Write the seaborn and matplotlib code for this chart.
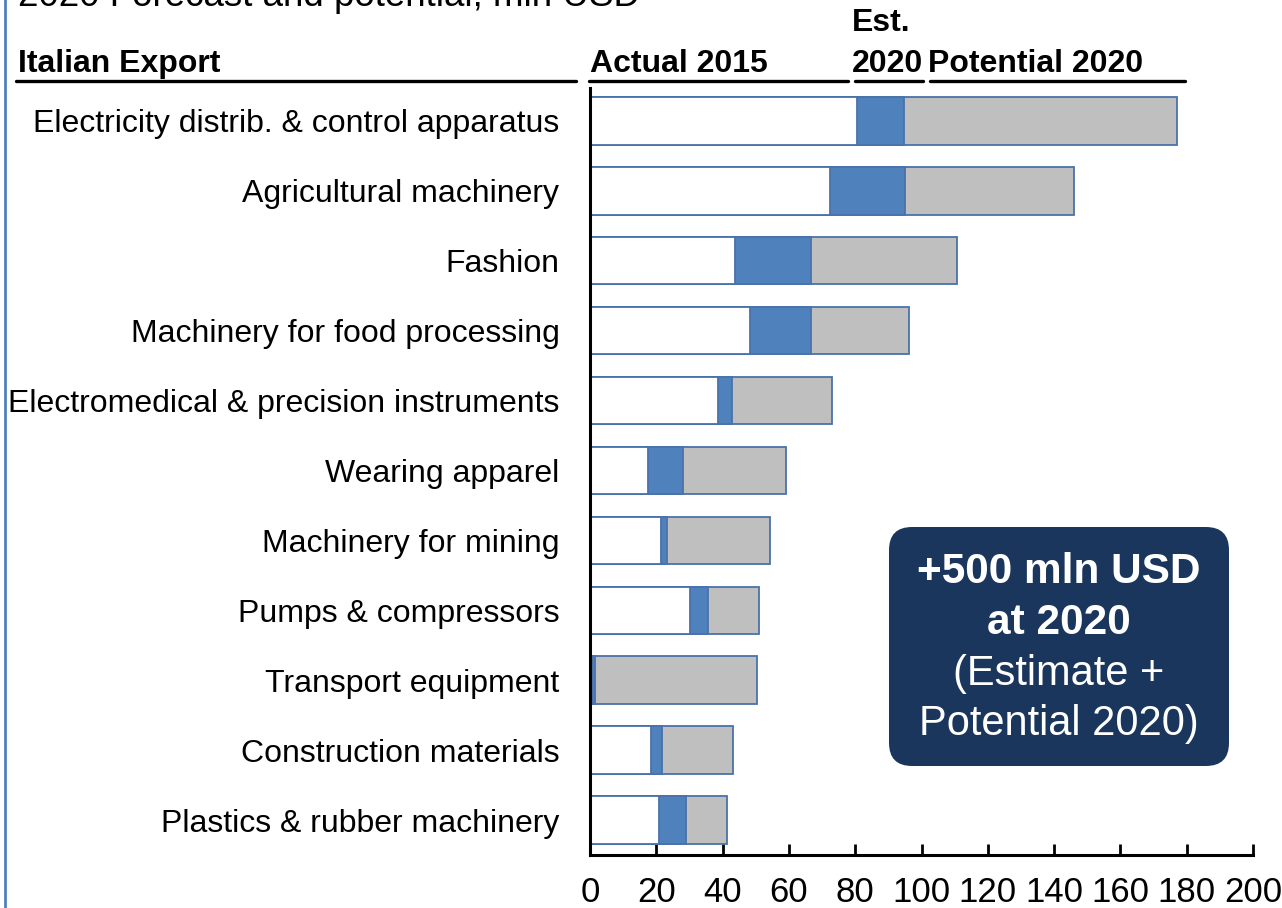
import matplotlib
matplotlib.use("Agg")
import matplotlib.pyplot as plt
from matplotlib.patches import FancyBboxPatch
from matplotlib.lines import Line2D
import seaborn as sns
import numpy as np
import pandas as pd

# Italian export, mln USD
categories = [
    "Electricity distrib. & control apparatus",
    "Agricultural machinery",
    "Fashion",
    "Machinery for food processing",
    "Electromedical & precision instruments",
    "Wearing apparel",
    "Machinery for mining",
    "Pumps & compressors",
    "Transport equipment",
    "Construction materials",
    "Plastics & rubber machinery",
]
actual_2015 = [80.5, 72.4, 43.7, 48.2, 38.6, 17.5, 21.4, 30.2, 0.6, 18.4, 20.8]
est_2020 = [14.2, 22.6, 22.9, 18.4, 4.2, 10.5, 1.8, 5.4, 0.9, 3.3, 8.2]
potential_2020 = [82.3, 51.0, 44.1, 29.6, 30.2, 31.0, 31.1, 15.4, 48.9, 21.4, 12.3]
x_ticks = [0, 20, 40, 60, 80, 100, 120, 140, 160, 180, 200]

df = pd.DataFrame({"category": categories,
                   "actual": actual_2015,
                   "est": est_2020,
                   "pot": potential_2020})
df["est_end"] = df["actual"] + df["est"]
df["total"] = df["est_end"] + df["pot"]

sns.set_style("white")
plt.rcParams["font.family"] = ["Liberation Sans", "DejaVu Sans"]
plt.rcParams["text.color"] = "black"
plt.rcParams["xtick.color"] = "black"
plt.rcParams["ytick.color"] = "black"

W, H = 1282, 908
fig = plt.figure(figsize=(W / 100, H / 100), dpi=100)
ax = fig.add_axes([590 / W, 1 - 855 / H, (1253 - 590) / W, (855 - 88) / H])

edge = "#4A72AA"
bar_w = 0.68
# draw layered: total (grey), actual+estimate (blue), actual (white)
sns.barplot(data=df, x="total", y="category", orient="h", color="#BFBFBF",
            saturation=1, width=bar_w, edgecolor=edge, linewidth=1.3, ax=ax)
sns.barplot(data=df, x="est_end", y="category", orient="h", color="#4F81BD",
            saturation=1, width=bar_w, edgecolor=edge, linewidth=1.3, ax=ax)
sns.barplot(data=df, x="actual", y="category", orient="h", color="white",
            saturation=1, width=bar_w, edgecolor=edge, linewidth=1.3, ax=ax)

ax.set_xlim(0, 200)
ax.set_ylim(10.5, -0.47)
ax.set_xlabel("")
ax.set_ylabel("")
ax.set_xticks(x_ticks)
ax.set_xticklabels([str(t) for t in x_ticks], fontsize=25)
ax.tick_params(axis="x", bottom=True, direction="in", length=8, width=2,
               color="black", pad=15, labelcolor="black")
ax.tick_params(axis="y", left=False, length=0, pad=22, labelsize=23,
               labelcolor="black")
for s in ["top", "right"]:
    ax.spines[s].set_visible(False)
for s in ["left", "bottom"]:
    ax.spines[s].set_color("black")
    ax.spines[s].set_linewidth(2.2)

# header texts and underlines
def fx(px):
    return px / W

def fy(py):
    return 1 - py / H

fig.text(fx(18), fy(6), "2020 Forecast and potential, mln USD", fontsize=26.5,
         va="baseline", ha="left")
hdr = dict(fontsize=23, fontweight="bold", va="baseline", ha="left")
fig.text(fx(18), fy(72), "Italian Export", **hdr)
fig.text(fx(590), fy(72), "Actual 2015", **hdr)
fig.text(fx(852), fy(31), "Est.", **hdr)
fig.text(fx(852), fy(72), "2020", **hdr)
fig.text(fx(928), fy(72), "Potential 2020", **hdr)
for x0, x1 in [(16, 576), (589, 848), (855, 923), (930, 1185)]:
    fig.add_artist(Line2D([fx(x0), fx(x1)], [fy(81), fy(81)], color="black",
                          linewidth=2.4, transform=fig.transFigure))

# left border line
fig.add_artist(Line2D([fx(5), fx(5)], [0, 1], color="#4F81BD", linewidth=2,
                      transform=fig.transFigure))

# callout box
box = FancyBboxPatch((fx(889), fy(766)), fx(1229 - 889), (766 - 527) / H,
                     boxstyle="round,pad=0,rounding_size=0.018",
                     transform=fig.transFigure, facecolor="#1B365D",
                     edgecolor="none", mutation_aspect=W / H)
fig.add_artist(box)
cx = fx(1059)
fig.text(cx, fy(572), "+500 mln USD", color="white", fontsize=30.5,
         fontweight="bold", ha="center", va="center")
fig.text(cx, fy(623), "at 2020", color="white", fontsize=30.5,
         fontweight="bold", ha="center", va="center")
fig.text(cx, fy(674), "(Estimate +", color="white", fontsize=30,
         ha="center", va="center")
fig.text(cx, fy(724), "Potential 2020)", color="white", fontsize=30,
         ha="center", va="center")

fig.savefig("out.png", dpi=100, facecolor="white")
